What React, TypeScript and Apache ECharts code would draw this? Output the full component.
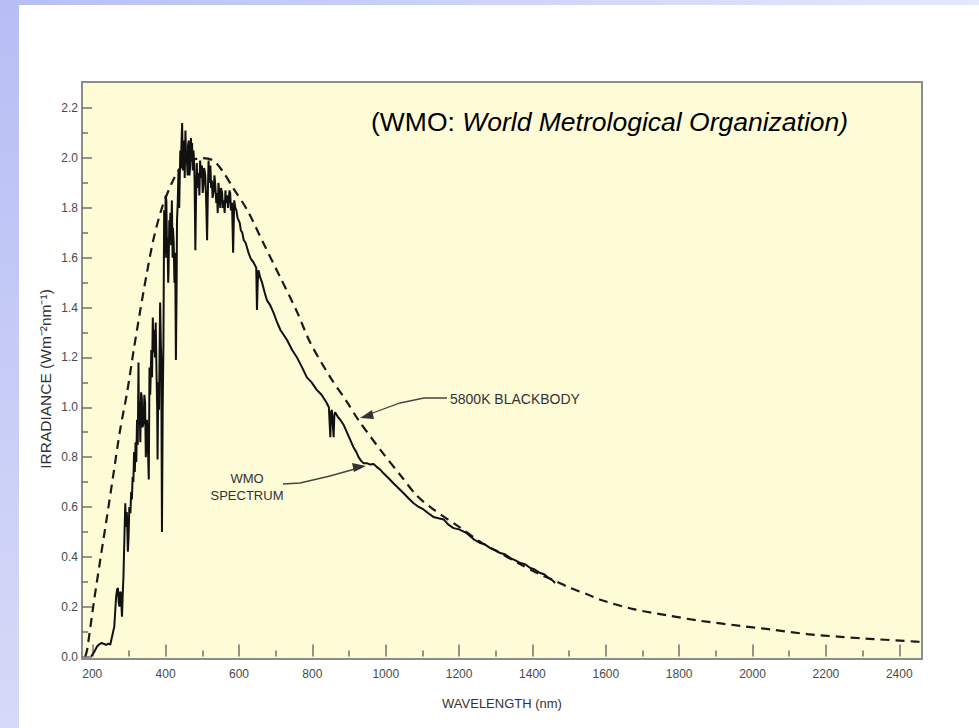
import React, { useEffect, useRef } from "react";
import * as echarts from "echarts";

const wmoSpectrum: [number, number][] = [
  [197, 0.0], [204, 0.015], [213, 0.04], [220, 0.05], [226, 0.055], [232, 0.05], [238, 0.047], [244, 0.052], [249, 0.047],
  [254, 0.08], [260, 0.12], [265, 0.24], [268, 0.27], [270, 0.275], [272, 0.22], [274, 0.2], [276, 0.26], [278, 0.255],
  [281, 0.16], [283, 0.25], [285, 0.32], [288, 0.5], [290, 0.615], [292, 0.52], [294, 0.58], [295, 0.55], [297, 0.42],
  [299, 0.48], [301, 0.6], [304, 0.575], [306, 0.66], [308, 0.63], [310, 0.72], [312, 0.7], [314, 0.82], [316, 0.74],
  [318, 0.86], [320, 0.78], [322, 0.95], [324, 0.85], [326, 1.18], [327, 0.98], [329, 1.02], [331, 0.86], [333, 1.06],
  [335, 1.04], [337, 0.92], [340, 0.94], [342, 1.05], [344, 1.02], [346, 0.8], [347, 0.85], [349, 0.95], [351, 0.88],
  [354, 0.71], [356, 1.16], [358, 1.05], [361, 1.23], [363, 1.12], [365, 1.36], [367, 1.22], [369, 1.31], [371, 1.2],
  [373, 1.34], [375, 1.15], [377, 0.99], [378, 0.79], [380, 1.1], [382, 0.99], [384, 1.3], [385, 1.42], [387, 1.25],
  [388, 1.2], [390, 0.5], [392, 1.0], [394, 1.26], [396, 1.79], [398, 1.6], [399, 1.7], [400, 1.85], [402, 1.83],
  [404, 1.6], [405, 1.68], [407, 1.5], [408, 1.55], [410, 1.75], [411, 1.7], [413, 1.78], [415, 1.65], [417, 1.83],
  [419, 1.6], [420, 1.72], [422, 1.66], [424, 1.5], [426, 1.62], [428, 1.19], [430, 1.5], [431, 1.75], [433, 1.82],
  [435, 1.95], [437, 1.8], [438, 1.88], [440, 2.03], [442, 1.96], [443, 2.05], [445, 2.14], [447, 1.95], [449, 2.0],
  [451, 2.07], [452, 1.92], [454, 2.11], [456, 1.98], [458, 1.99], [460, 1.93], [461, 2.05], [463, 2.07], [465, 1.93],
  [467, 1.97], [469, 2.08], [470, 2.02], [472, 2.06], [474, 1.95], [476, 2.03], [478, 1.97], [479, 1.9], [481, 1.63],
  [483, 1.85], [485, 1.98], [487, 1.88], [490, 1.94], [492, 1.85], [494, 1.99], [497, 1.92], [499, 1.97], [501, 1.86],
  [503, 1.89], [505, 1.96], [508, 1.93], [510, 1.85], [511, 1.8], [513, 1.67], [515, 1.85], [517, 1.99], [519, 1.9],
  [522, 1.97], [524, 1.88], [526, 1.91], [528, 1.84], [531, 1.87], [533, 1.93], [535, 1.9], [538, 1.82], [540, 1.86],
  [542, 1.78], [544, 1.9], [547, 1.84], [549, 1.8], [551, 1.88], [554, 1.86], [556, 1.8], [558, 1.83], [561, 1.78],
  [563, 1.87], [565, 1.82], [567, 1.85], [570, 1.8], [572, 1.83], [574, 1.87], [576, 1.86], [578, 1.79], [581, 1.82],
  [584, 1.62], [587, 1.83], [590, 1.8], [593, 1.79], [596, 1.76], [599, 1.75], [602, 1.74], [605, 1.71], [609, 1.7],
  [613, 1.67], [618, 1.66], [622, 1.64], [626, 1.62], [631, 1.6], [635, 1.59], [640, 1.58], [647, 1.56], [649, 1.39],
  [651, 1.5], [653, 1.55], [658, 1.52], [663, 1.5], [670, 1.46], [676, 1.43], [685, 1.41], [694, 1.38], [704, 1.34],
  [713, 1.31], [722, 1.29], [731, 1.27], [745, 1.23], [758, 1.2], [772, 1.16], [785, 1.12], [798, 1.1], [812, 1.07],
  [825, 1.05], [838, 1.02], [845, 1.0], [849, 0.88], [851, 0.98], [853, 0.99], [858, 0.88], [860, 0.97], [862, 0.98],
  [870, 0.96], [876, 0.95], [885, 0.93], [894, 0.9], [903, 0.87], [912, 0.84], [920, 0.82], [926, 0.8], [933, 0.785],
  [940, 0.775], [950, 0.775], [958, 0.77], [967, 0.772], [976, 0.76], [985, 0.75], [994, 0.735], [1008, 0.715],
  [1021, 0.695], [1035, 0.675], [1049, 0.655], [1062, 0.635], [1076, 0.615], [1090, 0.6], [1103, 0.59], [1116, 0.575],
  [1130, 0.56], [1144, 0.555], [1158, 0.55], [1170, 0.53], [1185, 0.515], [1200, 0.51], [1221, 0.495], [1240, 0.47],
  [1258, 0.455], [1270, 0.45], [1285, 0.435], [1300, 0.425], [1312, 0.415], [1325, 0.41], [1340, 0.395], [1355, 0.385],
  [1367, 0.375], [1380, 0.37], [1394, 0.355], [1405, 0.35], [1421, 0.335], [1432, 0.33], [1444, 0.315], [1455, 0.305],
  [1462, 0.295],
];

const blackbody5800K: [number, number][] = [
  [181, 0.0], [186, 0.027], [204, 0.215], [222, 0.39], [240, 0.56], [258, 0.735], [276, 0.91], [295, 1.06],
  [313, 1.23], [331, 1.39], [349, 1.54], [367, 1.675], [390, 1.8], [417, 1.9], [440, 1.96], [470, 1.99], [500, 2.0],
  [530, 1.99], [554, 1.95], [584, 1.88], [623, 1.79], [666, 1.66], [713, 1.52], [759, 1.38], [794, 1.26], [849, 1.12],
  [895, 1.02], [925, 0.95], [985, 0.83], [1044, 0.72], [1085, 0.645], [1130, 0.59], [1200, 0.52], [1258, 0.46],
  [1300, 0.425], [1367, 0.37], [1420, 0.33], [1467, 0.3], [1503, 0.275], [1549, 0.25], [1585, 0.228], [1675, 0.19],
  [1768, 0.165], [1858, 0.143], [1967, 0.123], [2057, 0.107], [2149, 0.09], [2240, 0.079], [2330, 0.07], [2444, 0.06],
  [2462, 0.058],
];

const xMajorTicks = [200, 400, 600, 800, 1000, 1200, 1400, 1600, 1800, 2000, 2200, 2400];
const xMinorTicks = [300, 500, 700, 900, 1100, 1300, 1500, 1700, 1900, 2100, 2300];
const yMajorTicks = [0, 0.2, 0.4, 0.6, 0.8, 1.0, 1.2, 1.4, 1.6, 1.8, 2.0, 2.2];
const yMinorTicks = [0.1, 0.3, 0.5, 0.7, 0.9, 1.1, 1.3, 1.5, 1.7, 1.9, 2.1];

const FONT = "Liberation Sans, Arial, sans-serif";

export default function App() {
  const ref = useRef<HTMLDivElement>(null);
  useEffect(() => {
    if (!ref.current) return;
    const chart = echarts.init(ref.current, undefined, { renderer: "svg" });
    const xCommon = {
      type: "value" as const,
      min: 172,
      max: 2462,
      position: "bottom" as const,
      axisLine: { show: false },
      splitLine: { show: false },
    };
    const yCommon = {
      type: "value" as const,
      min: -0.01,
      max: 2.305,
      position: "left" as const,
      axisLine: { show: false },
      splitLine: { show: false },
    };
    const tickColor = "#707070";
    chart.setOption({
      animation: false,
      backgroundColor: "#ffffff",
      grid: {
        left: 82,
        top: 82,
        right: 57,
        bottom: 69,
        show: true,
        backgroundColor: "#FEFBD7",
        borderColor: "#8c8c8c",
        borderWidth: 2,
      },
      xAxis: [
        {
          ...xCommon,
          name: "WAVELENGTH (nm)",
          nameLocation: "middle",
          nameGap: 38,
          nameTextStyle: { fontFamily: FONT, fontSize: 13, color: "#333" },
          axisTick: { show: true, inside: true, length: 12, customValues: xMajorTicks, lineStyle: { color: tickColor, width: 1.5 } },
          axisLabel: {
            show: true,
            customValues: xMajorTicks,
            margin: 9,
            fontFamily: FONT,
            fontSize: 12,
            color: "#4a4a4a",
            formatter: (v: number) => String(v),
          },
        },
        {
          ...xCommon,
          axisTick: { show: true, inside: true, length: 6, customValues: xMinorTicks, lineStyle: { color: tickColor, width: 1.5 } },
          axisLabel: { show: false },
        },
      ],
      yAxis: [
        {
          ...yCommon,
          axisTick: { show: true, inside: true, length: 10, customValues: yMajorTicks, lineStyle: { color: tickColor, width: 1.5 } },
          axisLabel: {
            show: true,
            customValues: yMajorTicks,
            margin: 4,
            fontFamily: FONT,
            fontSize: 12,
            color: "#4a4a4a",
            formatter: (v: number) => v.toFixed(1),
          },
        },
        {
          ...yCommon,
          axisTick: { show: true, inside: true, length: 6, customValues: yMinorTicks, lineStyle: { color: tickColor, width: 1.5 } },
          axisLabel: { show: false },
        },
      ],
      series: [
        {
          name: "WMO SPECTRUM",
          type: "line",
          xAxisIndex: 0,
          yAxisIndex: 0,
          data: wmoSpectrum,
          showSymbol: false,
          lineStyle: { color: "#111", width: 2 },
          z: 3,
        },
        {
          name: "5800K BLACKBODY",
          type: "line",
          xAxisIndex: 0,
          yAxisIndex: 0,
          data: blackbody5800K,
          showSymbol: false,
          smooth: 0.3,
          lineStyle: { color: "#1a1a1a", width: 2.2, type: [9, 6] },
          z: 2,
        },
      ],
      graphic: [
        {
          type: "rect",
          shape: { x: 0, y: 0, width: 19, height: 728 },
          style: {
            fill: new echarts.graphic.LinearGradient(0, 0, 0, 1, [
              { offset: 0, color: "#B6BEF4" },
              { offset: 1, color: "#D6DAF8" },
            ]),
          },
          silent: true,
        },
        {
          type: "rect",
          shape: { x: 0, y: 0, width: 979, height: 5 },
          style: {
            fill: new echarts.graphic.LinearGradient(0, 0, 1, 0, [
              { offset: 0, color: "#B6BEF4" },
              { offset: 1, color: "#E6E8FB" },
            ]),
          },
          silent: true,
        },
        {
          type: "text",
          x: 45,
          y: 379,
          rotation: Math.PI / 2,
          z: 10,
          style: {
            text: "IRRADIANCE (Wm\u207B\u00B2nm\u207B\u00B9)",
            fontFamily: FONT,
            fontSize: 15.5,
            fill: "#333",
            align: "center",
            verticalAlign: "middle",
          },
        },
        {
          type: "text",
          x: 371,
          y: 122,
          z: 10,
          style: {
            text: "{a|(WMO: }{b|World Metrological Organization)}",
            verticalAlign: "middle",
            rich: {
              a: { fontFamily: FONT, fontSize: 26.5, fill: "#000" },
              b: { fontFamily: FONT, fontSize: 26.5, fontStyle: "italic", fill: "#000" },
            },
          },
        },
        {
          type: "text",
          x: 450,
          y: 399,
          z: 10,
          style: { text: "5800K BLACKBODY", fontFamily: FONT, fontSize: 14, fill: "#333", verticalAlign: "middle" },
        },
        {
          type: "text",
          x: 247,
          y: 487,
          z: 10,
          style: {
            text: "WMO\nSPECTRUM",
            fontFamily: FONT,
            fontSize: 13,
            lineHeight: 17,
            fill: "#333",
            align: "center",
            verticalAlign: "middle",
          },
        },
        {
          type: "polyline",
          z: 10,
          shape: { points: [[447, 398], [424, 398], [400, 403], [370, 414]] },
          style: { stroke: "#444", lineWidth: 1.3, fill: "none" },
        },
        {
          type: "polygon",
          z: 10,
          shape: { points: [[360, 418], [372, 410], [374, 419]] },
          style: { fill: "#333" },
        },
        {
          type: "polyline",
          z: 10,
          shape: { points: [[283, 484], [300, 483], [330, 476], [355, 469]] },
          style: { stroke: "#444", lineWidth: 1.3, fill: "none" },
        },
        {
          type: "polygon",
          z: 10,
          shape: { points: [[366, 466], [352, 463], [354, 472]] },
          style: { fill: "#333" },
        },
      ],
    });
    return () => chart.dispose();
  }, []);
  return (
    <div
      ref={ref}
      style={{ position: "absolute", left: 0, top: 0, width: 979, height: 728, background: "#fff" }}
    />
  );
}
